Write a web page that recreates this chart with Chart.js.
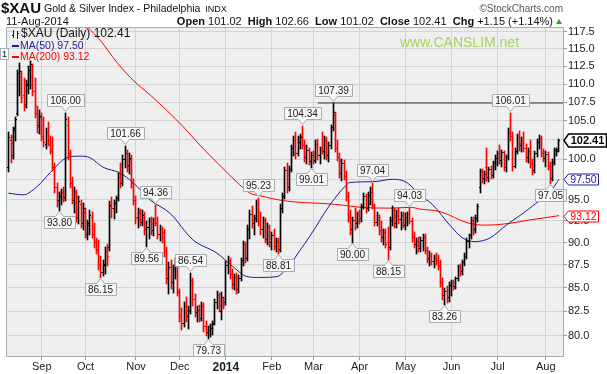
<!DOCTYPE html>
<html>
<head>
<meta charset="utf-8">
<script src="https://cdn.jsdelivr.net/npm/chart.js@4.4.1/dist/chart.umd.min.js"></script>
<style>
  body { margin: 0; background: #fff; }
  #wrap { position: relative; width: 607px; height: 374px; font-family: "Liberation Sans", Arial, sans-serif; color: #111; }
  #wrap canvas { position: absolute; left: 0; top: 0; }
  .t { position: absolute; white-space: nowrap; }
  .dash { display: inline-block; width: 7px; height: 2px; vertical-align: middle; margin-right: 1px; }
</style>
</head>
<body>
<div id="wrap">
  <canvas id="xauChart" width="607" height="374"></canvas>

  <div class="t" style="left:1px;top:0px;font-size:15px;font-weight:bold;line-height:16px;">$XAU</div>
  <div class="t" style="left:44px;top:2px;font-size:10.5px;line-height:13px;">Gold &amp; Silver Index - Philadelphia <span style="font-size:9px;margin-left:2px;">INDX</span></div>
  <div class="t" style="right:44px;top:2px;font-size:10px;line-height:13px;color:#555;">&copy;StockCharts.com</div>
  <div class="t" style="left:6px;top:15px;font-size:11px;line-height:13px;">11-Aug-2014</div>
  <div class="t" style="right:54px;top:15px;font-size:11px;line-height:13px;"><b>Open</b> 101.02 &nbsp;<b>High</b> 102.66 &nbsp;<b>Low</b> 101.02 &nbsp;<b>Close</b> 102.41 &nbsp;<b>Chg</b> +1.15 (+1.14%)</div>
  <div class="t" style="left:556px;top:19px;width:0;height:0;border-left:3.5px solid transparent;border-right:3.5px solid transparent;border-bottom:5px solid #22aa22;"></div>

  <div class="t" style="left:21px;top:27px;font-size:12px;line-height:13px;">$XAU (Daily) 102.41</div>
  <div class="t" style="left:12px;top:39px;font-size:10.5px;line-height:13px;color:#1c1c96;"><span class="dash" style="background:#1c1c96;"></span>MA(50) 97.50</div>
  <div class="t" style="left:12px;top:50px;font-size:10.5px;line-height:13px;color:#ff0000;"><span class="dash" style="background:#ff0000;"></span>MA(200) 93.12</div>
  <div class="t" style="left:0px;top:48px;width:7px;height:10px;border:1px solid #a9b4b4;background:#f6f6f6;font-size:9px;line-height:10px;text-align:center;">1</div>
  <div class="t" style="left:400px;top:34px;font-size:14px;line-height:16px;color:#a3d45a;">www.CANSLIM.net</div>
</div>

<script>
// daily bars, Aug 12 2013 .. Aug 11 2014 (index 0 = Sep 3 2013)
const FIRST_INDEX = -15;

const opens = [
  99.0,102.5,100.5,104.0,106.0,111.5,111.0,108.5,107.2,110.0,
  112.0,112.5,109.0,106.0,104.5,105.5,103.0,102.0,103.5,102.0,
  101.0,99.0,96.5,95.0,95.5,96.0,95.3,104.5,100.5,97.0,
  95.0,96.0,93.0,94.5,92.2,93.5,91.0,92.0,93.0,91.0,
  90.0,89.3,87.5,86.7,87.5,89.0,89.5,94.3,94.0,94.6,
  95.2,97.8,97.0,100.0,100.8,99.3,100.0,97.0,95.0,93.0,
  93.5,92.4,93.0,91.5,91.8,92.5,91.4,92.6,92.3,91.0,
  91.6,91.2,89.0,86.0,87.2,85.6,87.0,87.8,84.5,82.0,
  81.3,83.0,82.0,82.6,85.8,83.8,82.4,82.6,81.8,83.0,
  81.0,80.4,80.6,80.8,81.3,83.5,84.2,82.5,83.5,83.5,
  87.5,88.0,86.5,85.4,86.2,84.8,86.0,88.0,89.8,88.3,
  91.6,93.3,92.3,92.8,94.5,92.5,91.5,92.6,90.4,91.8,
  90.0,90.8,89.6,90.2,89.3,94.0,95.4,98.6,96.5,98.8,
  101.4,102.5,100.8,102.2,103.0,101.8,100.3,101.2,99.8,100.5,
  99.9,102.0,100.5,101.2,101.0,102.5,100.6,101.8,104.2,105.8,
  101.5,100.3,98.3,99.5,97.9,95.4,93.0,91.5,92.6,92.2,
  93.3,92.8,94.2,95.4,94.0,95.6,96.0,94.2,92.4,93.0,
  91.4,90.6,91.2,90.0,89.5,92.6,93.8,92.3,93.5,92.7,
  93.2,92.0,93.0,93.3,92.5,90.6,89.8,90.2,89.4,90.3,
  90.6,89.1,88.2,88.5,87.9,88.3,88.0,87.4,85.6,84.2,
  84.6,84.0,85.3,85.5,85.2,86.0,87.2,86.8,87.8,88.5,
  90.2,90.8,92.6,91.5,92.8,96.5,98.5,97.6,99.0,97.8,
  98.8,98.0,99.5,100.2,100.8,99.9,100.9,99.0,100.3,103.5,
  103.0,99.2,101.0,102.8,101.8,102.5,101.4,100.3,101.0,99.5,
  98.6,100.8,102.2,102.7,100.8,100.2,100.7,99.2,97.6,99.6,
  101.2,101.02
];
const highs = [
  103.5,103.1,104.2,105.5,112.0,112.9,111.8,110.8,110.5,112.5,
  113.3,112.8,110.9,107.0,106.4,106.0,105.5,104.0,104.8,103.0,
  102.8,99.5,97.0,96.0,96.3,96.5,106.0,105.5,101.2,97.8,
  96.5,96.2,95.5,95.0,94.6,94.0,92.6,93.8,93.5,92.3,
  90.5,90.3,88.5,88.0,89.5,89.8,94.8,95.3,95.0,95.5,
  98.3,99.5,100.5,101.66,101.2,100.8,100.6,97.5,95.5,94.0,
  93.9,93.8,93.5,92.5,92.8,93.0,92.8,94.36,93.0,92.0,
  91.8,91.5,89.5,87.8,88.0,87.5,88.3,88.0,84.8,82.8,
  83.5,84.0,83.0,86.54,86.0,84.3,83.0,83.2,83.5,83.4,
  81.5,81.0,81.2,81.5,83.8,84.6,84.4,84.5,84.0,87.9,
  88.5,88.2,87.0,86.5,86.6,86.4,88.3,90.2,90.0,92.0,
  93.8,94.2,93.2,95.0,95.23,93.5,93.0,92.8,92.2,92.0,
  91.2,91.5,90.5,90.5,94.5,95.8,99.0,99.5,99.2,101.8,
  103.0,103.5,103.0,103.2,104.34,102.5,101.8,101.5,100.9,101.0,
  102.5,102.6,101.6,103.5,103.0,102.8,102.2,104.5,107.39,106.2,
  102.5,100.8,100.0,99.9,98.5,96.0,93.8,93.0,94.0,93.6,
  93.8,94.5,95.8,95.7,96.0,96.5,97.04,94.5,93.5,93.2,
  92.5,91.6,91.5,91.8,93.0,94.2,94.0,93.8,94.0,93.6,
  93.5,93.4,93.6,94.03,92.8,91.2,90.5,90.6,90.6,91.0,
  91.0,89.5,89.0,88.8,88.6,88.8,88.6,88.0,86.0,85.0,
  85.2,85.6,85.8,85.8,86.2,87.5,87.6,88.0,88.8,90.5,
  91.0,93.0,93.0,93.2,94.5,98.8,98.8,98.5,101.5,99.0,
  99.2,99.8,100.5,101.0,101.8,101.2,101.0,100.6,104.0,106.01,
  103.5,101.5,103.2,103.6,102.9,103.5,102.0,101.4,102.5,100.0,
  101.0,102.6,103.1,103.0,101.3,101.0,100.9,99.6,100.0,101.5,
  101.5,102.66
];
const lows = [
  98.5,99.7,100.2,102.5,105.8,108.5,107.5,106.4,106.8,108.8,
  109.5,108.5,105.5,103.5,103.4,102.5,101.7,101.5,101.8,100.8,
  98.7,96.0,94.2,93.8,94.5,94.8,95.0,100.0,96.5,94.6,
  93.5,92.5,92.3,91.8,91.5,90.6,90.4,91.0,90.6,89.5,
  88.8,87.0,86.15,86.4,86.6,87.5,89.2,93.0,92.8,93.5,
  95.0,96.5,96.8,99.0,98.5,98.3,96.5,94.5,92.3,91.8,
  92.0,92.0,91.0,89.56,90.5,91.0,90.8,92.0,90.5,90.3,
  90.0,88.5,85.5,84.4,85.0,84.5,86.0,84.2,81.5,80.7,
  81.0,81.5,80.8,82.3,83.2,82.0,81.5,81.5,81.6,80.5,
  80.0,79.73,79.9,80.2,81.2,82.8,82.5,81.7,82.8,83.3,
  86.6,86.0,85.0,84.8,84.4,84.5,85.8,87.5,87.8,88.0,
  90.5,91.8,91.0,92.5,92.0,91.0,90.6,90.0,89.8,89.6,
  89.3,89.3,89.0,88.81,89.0,93.5,95.2,96.0,96.2,98.5,
  100.5,100.2,100.5,101.5,101.5,99.8,99.5,99.4,99.01,99.5,
  99.6,100.0,99.5,100.8,100.2,100.0,99.8,101.5,103.8,101.0,
  99.9,97.8,97.4,97.5,95.0,92.5,91.0,90.0,91.5,91.8,
  92.3,92.5,94.0,93.5,93.8,94.5,94.0,92.0,92.0,91.0,
  90.2,89.8,89.5,88.15,89.3,92.0,91.8,91.8,92.3,91.5,
  91.8,91.6,92.0,92.2,90.2,89.5,88.8,89.0,89.0,89.2,
  88.8,87.8,87.5,87.6,87.3,87.6,87.0,85.2,83.8,83.26,
  83.5,83.6,84.2,84.8,85.0,85.8,86.4,86.5,87.5,88.2,
  89.5,90.5,91.0,91.2,92.5,96.0,97.2,97.0,97.4,97.3,
  97.6,97.8,98.8,99.3,99.5,99.2,98.6,98.5,100.0,102.5,
  98.7,99.0,100.8,101.2,101.0,101.0,99.8,99.6,99.0,98.2,
  98.4,100.4,101.5,100.4,99.8,99.2,98.8,97.05,97.4,99.4,
  100.5,101.02
];
const closes = [
  102.8,100.3,103.8,105.2,111.5,111.8,108.2,107.0,109.8,112.0,
  112.8,109.0,106.0,104.2,105.6,103.0,102.2,103.5,102.0,101.3,
  99.0,96.5,94.8,95.5,96.0,95.2,105.3,100.8,97.0,95.0,
  96.0,93.0,94.8,92.2,94.0,91.0,92.2,93.2,91.0,90.0,
  89.2,87.5,86.7,87.6,89.0,88.5,94.4,94.0,94.6,95.2,
  97.8,97.0,100.0,100.8,99.2,100.2,97.0,95.0,92.8,93.5,
  92.4,93.2,91.5,91.8,92.5,91.4,92.6,92.3,91.0,91.6,
  91.2,89.0,86.0,87.2,85.6,87.0,87.8,84.6,82.0,81.3,
  83.0,82.0,82.6,85.8,83.8,82.4,82.6,81.8,83.0,81.0,
  80.4,80.6,80.8,81.2,83.5,84.2,83.0,84.0,83.2,87.5,
  88.0,86.5,85.4,86.2,84.8,86.0,88.0,89.8,88.3,91.6,
  93.3,92.3,92.8,94.5,92.5,91.5,92.6,90.4,91.8,90.0,
  90.8,89.6,90.2,89.3,94.0,95.4,98.6,96.5,98.8,101.4,
  102.5,100.8,102.2,102.8,101.8,100.3,101.2,99.8,100.5,99.9,
  102.0,100.5,101.2,101.0,102.5,100.6,101.8,104.2,106.2,101.5,
  100.3,98.3,99.5,97.9,95.4,93.0,91.5,92.6,92.2,93.3,
  92.8,94.2,95.4,94.0,95.6,96.0,94.5,92.4,93.0,91.4,
  90.6,91.2,89.8,89.5,92.6,93.8,92.3,93.5,92.7,93.2,
  92.0,93.0,93.3,92.5,90.6,89.8,90.2,89.4,90.3,90.6,
  89.1,88.2,88.5,87.9,88.3,88.0,87.4,85.6,84.2,84.6,
  84.0,85.3,85.5,85.2,86.0,87.2,86.8,87.8,88.5,90.2,
  90.8,92.6,91.5,92.8,94.2,98.5,97.6,98.2,97.8,98.8,
  98.0,99.5,100.2,100.8,99.9,100.9,99.0,100.3,103.5,103.0,
  99.2,101.0,102.8,101.8,102.5,101.4,100.3,101.0,99.5,98.6,
  100.8,102.2,102.7,100.8,100.2,100.7,99.2,97.6,99.6,101.2,
  101.26,102.41
];

// moving averages (bar index, value)
const ma50X = [-15.2, -8.5, -2.1, 3.8, 11.5, 17.5, 22.0, 28.0, 35.6, 41.6, 49.4, 58.5, 69.0, 79.9, 87.2, 93.6, 99.5, 107.3, 113.2, 117.8, 122.3, 131.5, 138.3, 140.6, 151.1, 160.2, 166.6, 172.5, 178.4, 186.2, 192.1, 197.6, 204.4, 212.0, 222.7, 233.2, 236];
const ma50Y = [95.8, 95.6, 96.6, 98.3, 100.2, 100.4, 100.2, 99.0, 98.3, 97.1, 95.0, 93.4, 90.3, 88.8, 87.3, 86.2, 86.1, 86.2, 87.5, 89.1, 90.7, 94.4, 96.6, 97.1, 97.2, 97.5, 97.1, 95.6, 94.4, 92.0, 90.5, 90.1, 90.5, 92.0, 94.0, 96.4, 97.5];
const ma200X = [20.9, 26.6, 34.2, 41.8, 49.4, 57.0, 64.6, 72.2, 83.6, 90.4, 95.0, 99.5, 110, 131.5, 136.0, 145.7, 159.4, 168.5, 172.5, 181.6, 195.1, 202.6, 213.2, 222.4, 234.5, 236];
const ma200Y = [118.24, 116.3, 113.1, 110.5, 108.5, 106.4, 104.2, 101.8, 98.6, 96.8, 95.8, 95.5, 94.9, 94.5, 94.4, 94.1, 94.0, 94.1, 93.9, 93.6, 92.2, 92.0, 92.2, 92.6, 93.05, 93.12];

// high / low call-outs
const peakIdx  = [11, 8, 27, 38, 48, 52, 68, 76, 99, 108, 119, 123, 133, 142, 151, 158, 168, 184, 214, 232];
const peakVal  = [106.00, 93.80, 86.15, 101.66, 89.56, 94.36, 86.54, 79.73, 95.23, 88.81, 104.34, 99.01, 107.39, 90.00, 97.04, 88.15, 94.03, 83.26, 106.01, 97.05];
const peakSide = ['up','down','down','up','down','up','up','down','up','down','up','down','up','down','up','down','up','down','up','down'];

// resistance line
const resX = [126, 238.3];
const resY = [107.39, 107.39];

const monthIdx = [0, 20, 43, 63, 84, 105, 124, 145, 166, 187, 208, 230];
const monthLbl = ['Sep', 'Oct', 'Nov', 'Dec', '2014', 'Feb', 'Mar', 'Apr', 'May', 'Jun', 'Jul', 'Aug'];
const yTicks = [80, 82.5, 85, 87.5, 90, 92.5, 95, 97.5, 100, 102.5, 105, 107.5, 110, 112.5, 115, 117.5];

const lastTags = [
  { value: 102.41, color: '#000000', bold: true },
  { value: 97.50, color: '#1c1c96', bold: false },
  { value: 93.12, color: '#ff0000', bold: false }
];

const FONT = '"Liberation Sans", Arial, sans-serif';
const barColors = closes.map((c, k) => (k === 0 || c >= closes[k - 1]) ? '#000000' : '#ff0000');
const barData = highs.map((h, k) => ({ x: FIRST_INDEX + k, y: [lows[k], h] }));

const ohlcPlugin = {
  id: 'ohlc',
  beforeDraw(chart) {
    const a = chart.chartArea, ctx = chart.ctx;
    ctx.save();
    ctx.fillStyle = '#efefef';
    ctx.fillRect(a.left, a.top, a.right - a.left, a.bottom - a.top);
    ctx.restore();
  },
  beforeDatasetsDraw(chart) {
    chart.getDatasetMeta(0).data.forEach(el => {
      el.x = Math.floor(el.x) + 0.5;
      el.y = Math.round(el.y);
      el.base = Math.round(el.base) + 1;
    });
  },
  afterDatasetsDraw(chart) {
    const ctx = chart.ctx, ys = chart.scales.y, xs = chart.scales.x;
    ctx.save();
    // open / close ticks
    chart.getDatasetMeta(0).data.forEach((el, k) => {
      const x0 = Math.floor(el.x);
      ctx.fillStyle = barColors[k];
      ctx.fillRect(x0 - 1, Math.round(ys.getPixelForValue(opens[k])), 1, 1);
      ctx.fillRect(x0 + 1, Math.round(ys.getPixelForValue(closes[k])), 1, 1);
    });
    // call-out boxes
    ctx.font = '10px ' + FONT;
    ctx.textAlign = 'center';
    ctx.textBaseline = 'middle';
    peakIdx.forEach((idx, n) => {
      const x = Math.floor(xs.getPixelForValue(idx)) + 0.5;
      const yv = Math.round(ys.getPixelForValue(peakVal[n]));
      const txt = peakVal[n].toFixed(2);
      const w = Math.round(ctx.measureText(txt).width) + 6, h = 12;
      const up = peakSide[n] === 'up';
      const edge = up ? yv - 6.5 : yv + 6.5;
      const top = up ? edge - h : edge;
      const tip = up ? yv - 1.5 : yv + 1.5;
      const l = Math.round(x - w / 2) + 0.5;
      ctx.beginPath();
      if (up) {
        ctx.moveTo(l, top); ctx.lineTo(l + w, top); ctx.lineTo(l + w, edge);
        ctx.lineTo(x + 4, edge); ctx.lineTo(x, tip); ctx.lineTo(x - 4, edge); ctx.lineTo(l, edge);
      } else {
        ctx.moveTo(l, edge); ctx.lineTo(x - 4, edge); ctx.lineTo(x, tip); ctx.lineTo(x + 4, edge);
        ctx.lineTo(l + w, edge); ctx.lineTo(l + w, edge + h); ctx.lineTo(l, edge + h);
      }
      ctx.closePath();
      ctx.fillStyle = '#f7f7f7';
      ctx.fill();
      ctx.strokeStyle = '#a3aeae';
      ctx.lineWidth = 1;
      ctx.stroke();
      ctx.fillStyle = '#1a1a1a';
      ctx.fillText(txt, x, top + h / 2 + 0.5);
    });
    ctx.restore();
  },
  afterDraw(chart) {
    const ctx = chart.ctx, ys = chart.scales.y, a = chart.chartArea;
    ctx.save();
    ctx.strokeStyle = '#9fb2b0';
    ctx.lineWidth = 1;
    ctx.strokeRect(a.left + 0.5, a.top + 0.5, a.right - a.left - 1, a.bottom - a.top - 1);
    // legend glyph
    ctx.strokeStyle = '#222';
    ctx.beginPath();
    ctx.moveTo(13.5, 30); ctx.lineTo(13.5, 38);
    ctx.moveTo(12, 35.5); ctx.lineTo(13.5, 35.5);
    ctx.moveTo(17.5, 31); ctx.lineTo(17.5, 39);
    ctx.moveTo(17.5, 33.5); ctx.lineTo(19, 33.5);
    ctx.stroke();
    // last-value tags on the axis
    ctx.textAlign = 'center';
    ctx.textBaseline = 'middle';
    lastTags.forEach(t => {
      const yc = Math.round(ys.getPixelForValue(t.value)) + 0.5;
      ctx.font = (t.bold ? 'bold 11px ' : '10.5px ') + FONT;
      const w = Math.round(ctx.measureText(t.value.toFixed(2)).width) + 4;
      const h = t.bold ? 13 : 11;
      const tip = a.right, l = a.right + 4.5;
      ctx.beginPath();
      ctx.moveTo(tip, yc); ctx.lineTo(l, yc - h / 2); ctx.lineTo(l + w, yc - h / 2);
      ctx.lineTo(l + w, yc + h / 2); ctx.lineTo(l, yc + h / 2); ctx.closePath();
      ctx.fillStyle = '#ffffff';
      ctx.fill();
      ctx.strokeStyle = t.color;
      ctx.lineWidth = t.bold ? 1.5 : 1;
      ctx.stroke();
      ctx.fillStyle = t.color;
      ctx.fillText(t.value.toFixed(2), l + w / 2, yc + 0.5);
    });
    ctx.restore();
  }
};

new Chart(document.getElementById('xauChart'), {
  data: {
    datasets: [
      {
        type: 'bar',
        data: barData,
        backgroundColor: barColors,
        borderWidth: 0,
        barThickness: 1,
        grouped: false,
        order: 1
      },
      {
        type: 'line',
        data: ma50X.map((x, k) => ({ x, y: ma50Y[k] })),
        borderColor: '#1c1c96',
        borderWidth: 1,
        pointRadius: 0,
        cubicInterpolationMode: 'monotone',
        order: 2
      },
      {
        type: 'line',
        data: ma200X.map((x, k) => ({ x, y: ma200Y[k] })),
        borderColor: '#ff0000',
        borderWidth: 1,
        pointRadius: 0,
        cubicInterpolationMode: 'monotone',
        order: 2
      },
      {
        type: 'line',
        data: resX.map((x, k) => ({ x, y: resY[k] })),
        borderColor: '#333333',
        borderWidth: 1,
        pointRadius: 0,
        order: 0
      }
    ]
  },
  options: {
    responsive: false,
    animation: false,
    devicePixelRatio: 1,
    layout: { padding: { left: 6, top: 27, right: 0, bottom: 0 } },
    plugins: { legend: { display: false }, tooltip: { enabled: false } },
    scales: {
      x: {
        type: 'linear',
        offset: false,
        min: -16.3,
        max: 238.3,
        afterBuildTicks: s => { s.ticks = monthIdx.map(v => ({ value: v })); },
        afterFit: s => { s.height = 17; },
        grid: { color: '#d3d3d3', tickLength: 3, tickColor: '#999', offset: false },
        border: { display: false },
        ticks: {
          autoSkip: false,
          maxRotation: 0,
          padding: 0,
          color: '#222',
          callback: (v, i) => monthLbl[i],
          font: c => (c.tick && c.tick.label === '2014')
            ? { family: FONT, size: 12, weight: 'bold' }
            : { family: FONT, size: 11 }
        }
      },
      y: {
        type: 'logarithmic',
        position: 'right',
        min: 77.85,
        max: 118.24,
        afterBuildTicks: s => { s.ticks = yTicks.map(v => ({ value: v })); },
        afterFit: s => { s.width = 43; },
        grid: { color: '#d3d3d3', tickLength: 3, tickColor: '#999' },
        border: { display: false },
        ticks: {
          padding: 1,
          color: '#222',
          font: { family: FONT, size: 11 },
          callback: v => Number(v).toFixed(1)
        }
      }
    }
  },
  plugins: [ohlcPlugin]
});
</script>
</body>
</html>
